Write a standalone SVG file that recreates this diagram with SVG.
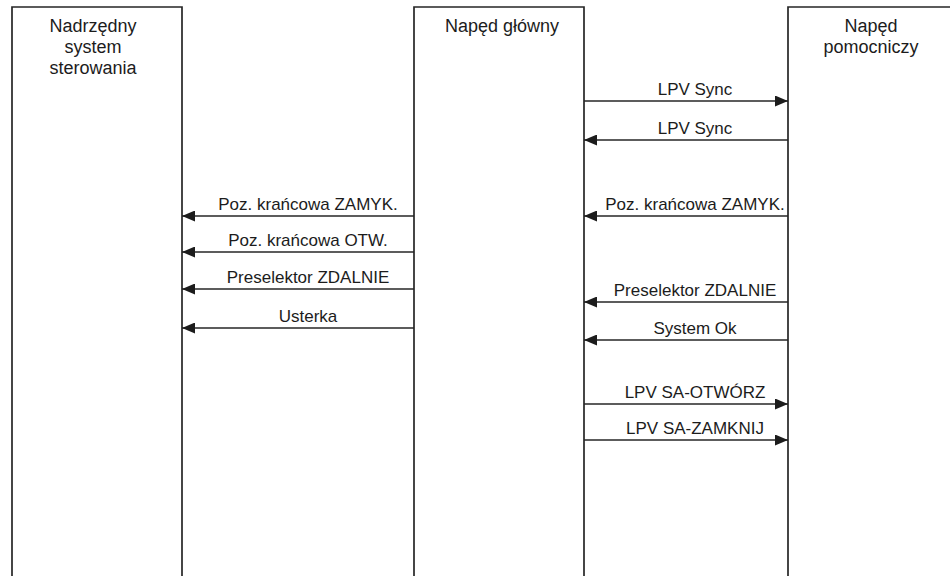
<svg xmlns="http://www.w3.org/2000/svg" width="950" height="576" viewBox="0 0 950 576">
  <style>
    .box { fill: #ffffff; stroke: #262626; stroke-width: 1.7; }
    .msg { stroke: #262626; stroke-width: 1.6; fill: none; }
    .hdr { font-family: "Liberation Sans", Arial, sans-serif; font-size: 18px; fill: #1c1c1c; text-anchor: middle; }
    .lbl { font-family: "Liberation Sans", Arial, sans-serif; font-size: 17px; fill: #1c1c1c; text-anchor: middle; }
  </style>
  <defs>
    <marker id="head" viewBox="0 0 13 11" refX="13" refY="5.5" markerWidth="13" markerHeight="11" markerUnits="userSpaceOnUse" orient="auto">
      <path d="M0,0 L13,5.5 L0,11 Z" fill="#1c1c1c"/>
    </marker>
  </defs>
  <rect width="950" height="576" fill="#ffffff"/>

  <!-- lifeline: supervisory control system -->
  <g id="nadrzedny">
    <path class="box" d="M12,590 V7 H182 V590"/>
    <text class="hdr" x="93" y="32">Nadrzędny</text>
    <text class="hdr" x="93" y="53">system</text>
    <text class="hdr" x="93" y="74">sterowania</text>
  </g>

  <!-- lifeline: main actuator -->
  <g id="naped-glowny">
    <path class="box" d="M414,590 V7 H584 V590"/>
    <text class="hdr" x="502" y="32">Napęd główny</text>
  </g>

  <!-- lifeline: auxiliary actuator -->
  <g id="naped-pomocniczy">
    <path class="box" d="M788,590 V7 H960"/>
    <text class="hdr" x="871" y="32">Napęd</text>
    <text class="hdr" x="871" y="53">pomocniczy</text>
  </g>

  <!-- messages -->
  <g id="connectors">
    <line class="msg" x1="584" y1="101" x2="788" y2="101" marker-end="url(#head)"/>
    <line class="msg" x1="788" y1="140" x2="584" y2="140" marker-end="url(#head)"/>
    <line class="msg" x1="788" y1="216" x2="584" y2="216" marker-end="url(#head)"/>
    <line class="msg" x1="788" y1="302" x2="584" y2="302" marker-end="url(#head)"/>
    <line class="msg" x1="788" y1="340" x2="584" y2="340" marker-end="url(#head)"/>
    <line class="msg" x1="584" y1="404" x2="788" y2="404" marker-end="url(#head)"/>
    <line class="msg" x1="584" y1="440" x2="788" y2="440" marker-end="url(#head)"/>

    <line class="msg" x1="414" y1="216" x2="182" y2="216" marker-end="url(#head)"/>
    <line class="msg" x1="414" y1="252" x2="182" y2="252" marker-end="url(#head)"/>
    <line class="msg" x1="414" y1="289" x2="182" y2="289" marker-end="url(#head)"/>
    <line class="msg" x1="414" y1="328" x2="182" y2="328" marker-end="url(#head)"/>
  </g>

  <g id="labels">
    <text class="lbl" x="695" y="95">LPV Sync</text>
    <text class="lbl" x="695" y="134">LPV Sync</text>
    <text class="lbl" x="695" y="210">Poz. krańcowa ZAMYK.</text>
    <text class="lbl" x="695" y="296">Preselektor ZDALNIE</text>
    <text class="lbl" x="695" y="334">System Ok</text>
    <text class="lbl" x="695" y="398">LPV SA-OTWÓRZ</text>
    <text class="lbl" x="695" y="434">LPV SA-ZAMKNIJ</text>

    <text class="lbl" x="308" y="210">Poz. krańcowa ZAMYK.</text>
    <text class="lbl" x="308" y="246">Poz. krańcowa OTW.</text>
    <text class="lbl" x="308" y="283">Preselektor ZDALNIE</text>
    <text class="lbl" x="308" y="322">Usterka</text>
  </g>
</svg>
